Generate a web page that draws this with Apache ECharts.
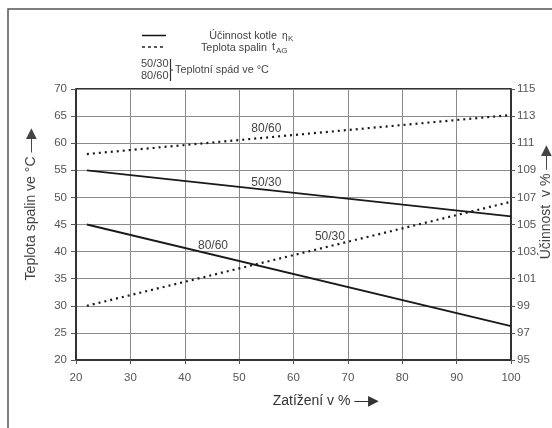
<!DOCTYPE html>
<html><head><meta charset="utf-8">
<script src="https://cdn.jsdelivr.net/npm/echarts@6/dist/echarts.min.js"></script>
<style>html,body{margin:0;padding:0;background:#fff}#c{width:552px;height:428px}</style>
</head><body><div id="c"></div>
<script>
// Data
const loadX = [22, 100];                 // Zatížení v %
const eff5030 = [109, 105.6];            // Účinnost kotle, 50/30 (right axis)
const eff8060 = [105, 97.5];             // Účinnost kotle, 80/60 (right axis)
const temp8060 = [58, 65.2];             // Teplota spalin, 80/60 (left axis)
const temp5030 = [30, 49.2];             // Teplota spalin, 50/30 (left axis)
const xTicks = [20, 30, 40, 50, 60, 70, 80, 90, 100];
const leftTicks = [20, 25, 30, 35, 40, 45, 50, 55, 60, 65, 70];
const rightTicks = [95, 97, 99, 101, 103, 105, 107, 109, 111, 113, 115];

const pairs = (ys) => loadX.map((x, i) => [x, ys[i]]);
const font = 'Liberation Sans, Arial, sans-serif';
const chart = echarts.init(document.getElementById('c'), null, {renderer: 'canvas'});

function lbl(text, coord) {
  return {
    symbol: 'circle', symbolSize: 1, silent: true,
    itemStyle: {color: 'rgba(0,0,0,0)'},
    data: [{coord: coord, value: text}],
    label: {show: true, position: 'inside', formatter: text, color: '#444', fontSize: 12, fontFamily: font}
  };
}

const solid = {color: '#1a1a1a', width: 1.8, type: 'solid'};
const dotted = {color: '#1a1a1a', width: 2.2, type: [2, 4]};
const txt = '#444';

chart.setOption({
  animation: false,
  backgroundColor: '#fff',
  textStyle: {fontFamily: font},
  grid: {left: 76, right: 41, top: 89, bottom: 68, containLabel: false},
  xAxis: {
    type: 'value', min: 20, max: 100, interval: 10,
    axisLine: {show: true, onZero: false, lineStyle: {color: '#333', width: 2}},
    axisTick: {show: true, inside: false, length: 4, lineStyle: {color: '#555'}},
    axisLabel: {color: '#555', fontSize: 11.5, margin: 12, fontFamily: font},
    splitLine: {show: true, lineStyle: {color: '#8a8a8a', width: 1}}
  },
  yAxis: [
    {
      type: 'value', min: 20, max: 70, interval: 5, position: 'left',
      axisLine: {show: true, lineStyle: {color: '#333', width: 2}},
      axisTick: {show: true, length: 5, lineStyle: {color: '#555'}},
      axisLabel: {color: '#555', fontSize: 11.5, margin: 9, fontFamily: font},
      splitLine: {show: true, lineStyle: {color: '#8a8a8a', width: 1}}
    },
    {
      type: 'value', min: 95, max: 115, interval: 2, position: 'right',
      axisLine: {show: true, lineStyle: {color: '#333', width: 2}},
      axisTick: {show: true, length: 4, lineStyle: {color: '#555'}},
      axisLabel: {color: '#555', fontSize: 11.5, margin: 6, fontFamily: font},
      splitLine: {show: false}
    }
  ],
  series: [
    {type: 'line', name: 'Účinnost 50/30', yAxisIndex: 1, data: pairs(eff5030), symbol: 'none', lineStyle: solid,
      markPoint: lbl('50/30', [55, 108.1])},
    {type: 'line', name: 'Účinnost 80/60', yAxisIndex: 1, data: pairs(eff8060), symbol: 'none', lineStyle: solid,
      markPoint: lbl('80/60', [45.2, 103.4])},
    {type: 'line', name: 'Teplota 80/60', yAxisIndex: 0, data: pairs(temp8060), symbol: 'none', lineStyle: dotted,
      markPoint: lbl('80/60', [55, 62.6])},
    {type: 'line', name: 'Teplota 50/30', yAxisIndex: 0, data: pairs(temp5030), symbol: 'none', lineStyle: dotted,
      markPoint: lbl('50/30', [66.7, 42.7])}
  ],
  graphic: [
    // outer frame
    {type: 'rect', shape: {x: 8, y: 9, width: 560, height: 440}, style: {fill: 'none', stroke: '#555', lineWidth: 1.5}, z: -1},
    // top plot border
    {type: 'line', shape: {x1: 76, y1: 89, x2: 511, y2: 89}, style: {stroke: '#333', lineWidth: 2}},
    // legend
    {type: 'line', shape: {x1: 142, y1: 35.5, x2: 166, y2: 35.5}, style: {stroke: '#111', lineWidth: 1.5}},
    {type: 'line', shape: {x1: 142, y1: 47, x2: 166, y2: 47}, style: {stroke: '#222', lineWidth: 1.5, lineDash: [3, 3]}},
    {type: 'text', x: 277, y: 36, style: {text: 'Účinnost kotle', align: 'right', verticalAlign: 'middle', fill: txt, fontSize: 10.8, fontFamily: font}},
    {type: 'text', x: 282, y: 36, style: {text: 'η', align: 'left', verticalAlign: 'middle', fill: txt, fontSize: 10, fontFamily: font}},
    {type: 'text', x: 288, y: 39, style: {text: 'K', align: 'left', verticalAlign: 'middle', fill: txt, fontSize: 8, fontFamily: font}},
    {type: 'text', x: 267, y: 48, style: {text: 'Teplota spalin', align: 'right', verticalAlign: 'middle', fill: txt, fontSize: 10.8, fontFamily: font}},
    {type: 'text', x: 272, y: 47, style: {text: 't', align: 'left', verticalAlign: 'middle', fill: txt, fontSize: 11, fontFamily: font}},
    {type: 'text', x: 276, y: 50.5, style: {text: 'AG', align: 'left', verticalAlign: 'middle', fill: txt, fontSize: 8, fontFamily: font}},
    {type: 'text', x: 141, y: 64, style: {text: '50/30', verticalAlign: 'middle', fill: txt, fontSize: 11, fontFamily: font}},
    {type: 'text', x: 141, y: 76, style: {text: '80/60', verticalAlign: 'middle', fill: txt, fontSize: 11, fontFamily: font}},
    {type: 'line', shape: {x1: 170.5, y1: 59, x2: 170.5, y2: 81}, style: {stroke: '#333', lineWidth: 1.2}},
    {type: 'line', shape: {x1: 170.5, y1: 70, x2: 173, y2: 70}, style: {stroke: '#333', lineWidth: 1}},
    {type: 'text', x: 175, y: 70, style: {text: 'Teplotní spád ve °C', verticalAlign: 'middle', fill: txt, fontSize: 10.8, fontFamily: font}},
    // axis names
    {type: 'text', x: 31, y: 204, rotation: Math.PI / 2, style: {
      text: 'Teplota spalin ve °C \u2014\u25B6', align: 'center', verticalAlign: 'middle', fill: '#444', fontSize: 14, fontFamily: font}},
    {type: 'text', x: 546, y: 202, rotation: Math.PI / 2, style: {
      text: 'Účinnost  v % \u2014\u25B6', align: 'center', verticalAlign: 'middle', fill: '#444', fontSize: 14, fontFamily: font}},
    {type: 'text', x: 326, y: 401, style: {
      text: 'Zatížení v % \u2014\u25B6', align: 'center', verticalAlign: 'middle', fill: '#333', fontSize: 14, fontFamily: font}}
  ]
});
</script></body></html>
